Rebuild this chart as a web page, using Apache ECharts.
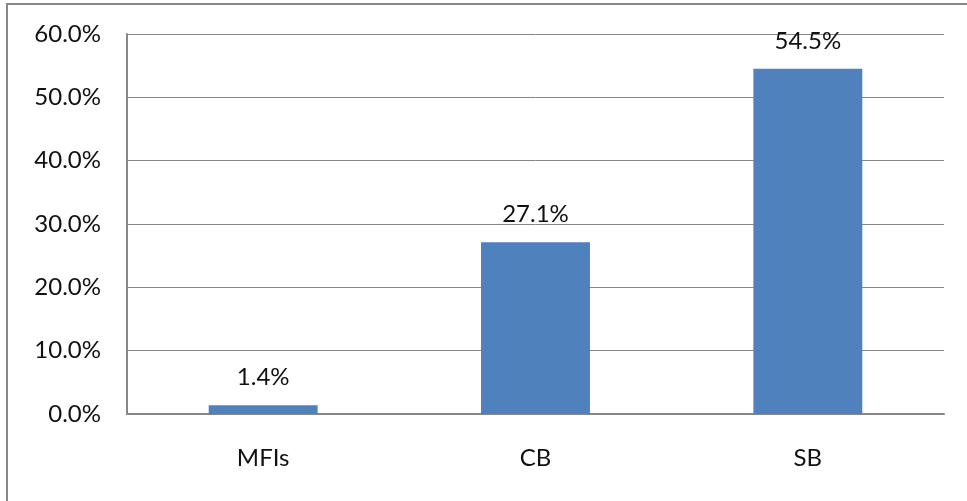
<!DOCTYPE html>
<html>
<head>
<meta charset="utf-8">
<script src="https://cdn.jsdelivr.net/npm/echarts@6/dist/echarts.min.js"></script>
<style>
  html, body { margin: 0; padding: 0; background: #fff; }
  #chart { width: 967px; height: 501px; }
</style>
</head>
<body>
<div id="chart"></div>
<script>
// Share of institutions by type (percent)
const categories = ['MFIs', 'CB', 'SB'];
const shares = [1.4, 27.1, 54.5];
const yTicks = { min: 0, max: 60, step: 10 };

const FONT = 'Lato';
const GRAY = '#878787';

const chart = echarts.init(document.getElementById('chart'), null, { renderer: 'canvas' });
chart.setOption({
  animation: false,
  backgroundColor: '#fff',
  textStyle: { fontFamily: FONT },
  graphic: [{
    type: 'rect',
    shape: { x: 7, y: 4, width: 1000, height: 560 },
    style: { fill: 'none', stroke: GRAY, lineWidth: 2 },
    silent: true
  }],
  grid: { left: 127, right: 23, top: 34, bottom: 87, containLabel: false },
  xAxis: {
    type: 'category',
    data: categories,
    axisTick: { show: false },
    axisLine: { show: true, lineStyle: { color: GRAY, width: 2 } },
    axisLabel: { color: '#111', fontSize: 24, fontFamily: FONT, margin: 32 }
  },
  yAxis: {
    type: 'value',
    min: yTicks.min,
    max: yTicks.max,
    interval: yTicks.step,
    axisLine: { show: true, lineStyle: { color: GRAY, width: 2 } },
    axisTick: { show: false },
    splitLine: { show: true, lineStyle: { color: GRAY, width: 1 } },
    axisLabel: {
      color: '#111', fontSize: 24, fontFamily: FONT, margin: 26,
      formatter: v => v.toFixed(1) + '%'
    }
  },
  series: [{
    type: 'bar',
    data: shares,
    barWidth: '40%',
    itemStyle: { color: '#4F81BD' },
    label: {
      show: true,
      position: 'top',
      distance: 16,
      color: '#111',
      fontSize: 24,
      fontFamily: FONT,
      formatter: p => p.value.toFixed(1) + '%'
    }
  }]
});
</script>
</body>
</html>
